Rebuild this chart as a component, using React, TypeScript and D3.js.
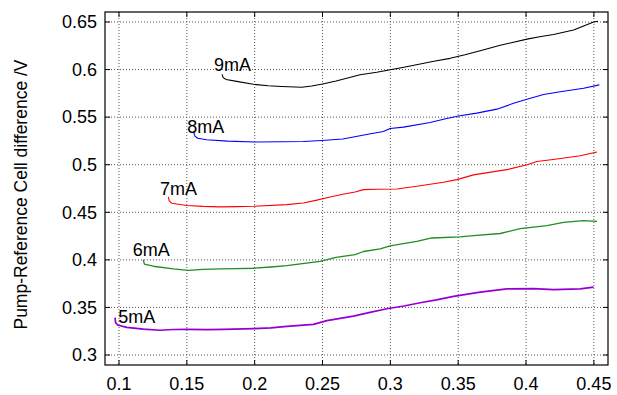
import React from "react";
import * as d3 from "d3";

const xTicks = [0.1, 0.15, 0.2, 0.25, 0.3, 0.35, 0.4, 0.45];
const yTicks = [0.3, 0.35, 0.4, 0.45, 0.5, 0.55, 0.6, 0.65];
const xTickLabels = ["0.1", "0.15", "0.2", "0.25", "0.3", "0.35", "0.4", "0.45"];
const yTickLabels = ["0.3", "0.35", "0.4", "0.45", "0.5", "0.55", "0.6", "0.65"];

const series9mA: [number, number][] = [
  [0.176, 0.595], [0.1768, 0.5915], [0.179, 0.5895], [0.1867, 0.5876], [0.199, 0.5845],
  [0.21, 0.583], [0.22, 0.5822], [0.2347, 0.5814], [0.242, 0.5828], [0.25, 0.5848],
  [0.26, 0.588], [0.2777, 0.5945], [0.29, 0.5972], [0.3, 0.5998], [0.31, 0.6025],
  [0.322, 0.6058], [0.333, 0.609], [0.3441, 0.6118], [0.355, 0.6155], [0.3662, 0.6198],
  [0.381, 0.6255], [0.39, 0.6285], [0.4007, 0.632], [0.41, 0.6345], [0.4203, 0.6368],
  [0.435, 0.6416], [0.442, 0.6455], [0.4498, 0.65], [0.453, 0.6508],
];
const series8mA: [number, number][] = [
  [0.1548, 0.5349], [0.156, 0.53], [0.158, 0.5278], [0.1646, 0.5262], [0.18, 0.5248],
  [0.2003, 0.5238], [0.22, 0.5242], [0.2359, 0.5244], [0.2495, 0.5255], [0.265, 0.527],
  [0.2854, 0.5325], [0.2949, 0.5349], [0.2998, 0.538], [0.3097, 0.5395], [0.3293, 0.5443],
  [0.34, 0.548], [0.3502, 0.5512], [0.3637, 0.5542], [0.3785, 0.5584], [0.3908, 0.5645],
  [0.4007, 0.5689], [0.4129, 0.5738], [0.4252, 0.5766], [0.4424, 0.5804], [0.454, 0.5839],
];
const series7mA: [number, number][] = [
  [0.1364, 0.4662], [0.137, 0.462], [0.139, 0.4595], [0.1499, 0.4572], [0.162, 0.4562],
  [0.1745, 0.4557], [0.187, 0.456], [0.199, 0.4563], [0.2237, 0.4581], [0.2359, 0.4598],
  [0.245, 0.4625], [0.2556, 0.466], [0.265, 0.469], [0.274, 0.4714], [0.2802, 0.4738],
  [0.29, 0.4742], [0.3048, 0.4745], [0.3195, 0.4773], [0.3392, 0.4815], [0.349, 0.4843],
  [0.3613, 0.4893], [0.374, 0.4922], [0.3859, 0.4948], [0.4007, 0.5], [0.408, 0.5033],
  [0.4228, 0.506], [0.44, 0.5095], [0.4523, 0.5133],
];
const series6mA: [number, number][] = [
  [0.1179, 0.4003], [0.1187, 0.3955], [0.1253, 0.3933], [0.14, 0.3905], [0.1511, 0.389],
  [0.162, 0.39], [0.1745, 0.3905], [0.187, 0.3908], [0.199, 0.3912], [0.212, 0.3925],
  [0.2237, 0.394], [0.2482, 0.3985], [0.26, 0.4025], [0.274, 0.4055], [0.2802, 0.4088],
  [0.2925, 0.4115], [0.2998, 0.4148], [0.3195, 0.4195], [0.3306, 0.423], [0.3515, 0.4241],
  [0.3613, 0.4255], [0.381, 0.4277], [0.3957, 0.4328], [0.4154, 0.436], [0.4277, 0.4394],
  [0.4424, 0.4412], [0.4523, 0.4405],
];
const series5mA: [number, number][] = [
  [0.0971, 0.3392], [0.0975, 0.334], [0.099, 0.3315], [0.1057, 0.329], [0.118, 0.3272],
  [0.1302, 0.326], [0.14, 0.3268], [0.1499, 0.3269], [0.165, 0.3266], [0.177, 0.327],
  [0.199, 0.3277], [0.212, 0.3285], [0.2237, 0.33], [0.2433, 0.3322], [0.2532, 0.3362],
  [0.2728, 0.3408], [0.285, 0.3448], [0.2974, 0.3486], [0.31, 0.3515], [0.322, 0.3549],
  [0.334, 0.358], [0.3466, 0.3617], [0.3662, 0.366], [0.3859, 0.3696], [0.4055, 0.3697],
  [0.4203, 0.3688], [0.44, 0.3696], [0.4498, 0.3713],
];

const seriesNames = ["9mA", "8mA", "7mA", "6mA", "5mA"];
const seriesData = [series9mA, series8mA, series7mA, series6mA, series5mA];
const seriesColors = ["#000000", "#0000ff", "#ff0000", "#228b22", "#9400d3"];
const seriesWidths = [1.1, 1.1, 1.1, 1.3, 1.7];
const labelX = [0.1701, 0.1504, 0.1302, 0.1101, 0.0995];
const labelY = [0.5982, 0.5332, 0.4686, 0.4038, 0.334];

const yTitle = "Pump-Reference Cell difference /V";

const W = 617;
const H = 395;
const left = 105, right = 608, top = 12, bottom = 365;
const FONT = "'Liberation Sans', Arial, sans-serif";

export default function App() {
  const x = d3.scaleLinear().domain([0.0897, 0.4604]).range([left, right]);
  const y = d3.scaleLinear().domain([0.2895, 0.6605]).range([bottom, top]);
  const line = d3
    .line<[number, number]>()
    .x((d) => x(d[0]))
    .y((d) => y(d[1]));
  const tl = 5;
  return (
    <svg
      width={W}
      height={H}
      style={{ position: "absolute", left: 0, top: 0, background: "#fff" }}
      fontFamily={FONT}
    >
      <rect x={0} y={0} width={W} height={H} fill="#fff" />
      {xTicks.map((t) => (
        <line key={"gx" + t} x1={x(t)} x2={x(t)} y1={top} y2={bottom}
          stroke="#555" strokeWidth={1} strokeDasharray="1,2" />
      ))}
      {yTicks.map((t) => (
        <line key={"gy" + t} x1={left} x2={right} y1={y(t)} y2={y(t)}
          stroke="#555" strokeWidth={1} strokeDasharray="1,2" />
      ))}
      {xTicks.map((t) => (
        <g key={"tx" + t}>
          <line x1={x(t)} x2={x(t)} y1={bottom} y2={bottom - tl} stroke="#000" />
          <line x1={x(t)} x2={x(t)} y1={top} y2={top + tl} stroke="#000" />
        </g>
      ))}
      {yTicks.map((t) => (
        <g key={"ty" + t}>
          <line x1={left} x2={left + tl} y1={y(t)} y2={y(t)} stroke="#000" />
          <line x1={right} x2={right - tl} y1={y(t)} y2={y(t)} stroke="#000" />
        </g>
      ))}
      {seriesData.map((s, i) => (
        <path key={seriesNames[i]} d={line(s) || ""} fill="none"
          stroke={seriesColors[i]} strokeWidth={seriesWidths[i]} strokeLinejoin="round" />
      ))}
      {seriesNames.map((n, i) => (
        <text key={"lb" + n} x={x(labelX[i])} y={y(labelY[i])} fontSize={18} fill="#000">
          {n}
        </text>
      ))}
      <rect x={left} y={top} width={right - left} height={bottom - top}
        fill="none" stroke="#000" strokeWidth={1.2} />
      {yTicks.map((t, i) => (
        <text key={"yl" + t} x={97} y={y(t)} dy="0.35em" textAnchor="end" fontSize={18} fill="#000">
          {yTickLabels[i]}
        </text>
      ))}
      {xTicks.map((t, i) => (
        <text key={"xl" + t} x={x(t)} y={390} textAnchor="middle" fontSize={18} fill="#000">
          {xTickLabels[i]}
        </text>
      ))}
      <text transform={`translate(27,${(top + bottom) / 2 + 6}) rotate(-90)`}
        textAnchor="middle" fontSize={17.5} fill="#000">
        {yTitle}
      </text>
    </svg>
  );
}
